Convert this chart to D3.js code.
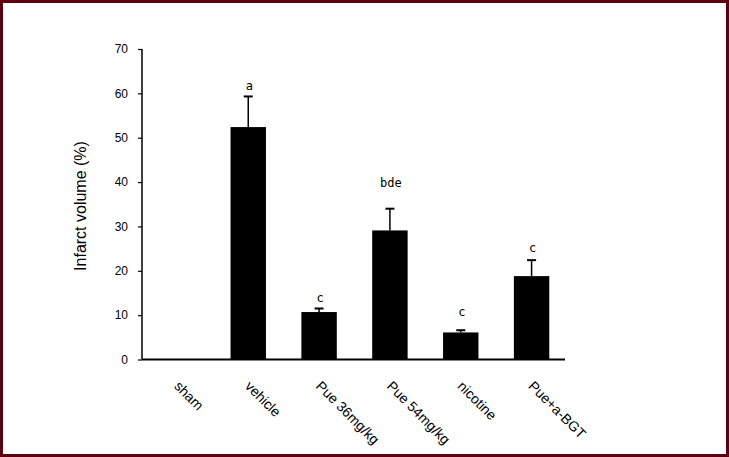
<!DOCTYPE html>
<html>
<head>
<meta charset="utf-8">
<script src="https://cdn.jsdelivr.net/npm/d3@7"></script>
<style>
  html, body { margin: 0; padding: 0; background: #fff; }
  svg { display: block; }
</style>
</head>
<body>
<div id="chart"></div>
<script>
const groups = ["sham", "vehicle", "Pue 36mg/kg", "Pue 54mg/kg", "nicotine", "Pue+a-BGT"];
const means = [0, 52.4, 10.7, 29.1, 6.1, 18.8];
const errors = [0, 6.9, 0.8, 4.9, 0.5, 3.6];
const letters = ["", "a", "c", "bde", "c", "c"];
const letterAt = [0, 60.8, 13.0, 38.9, 9.8, 24.2];
const yTicks = [0, 10, 20, 30, 40, 50, 60, 70];

function init() {
    const width = 729, height = 457;

    const svg = d3.select("#chart")
        .append("svg")
        .attr("width", width)
        .attr("height", height);

    // frame
    svg.append("rect")
        .attr("x", 1.5)
        .attr("y", 1.5)
        .attr("width", width - 3)
        .attr("height", height - 3)
        .attr("fill", "none")
        .attr("stroke", "#5c0012")
        .attr("stroke-width", 3);

    const x = d3.scaleBand()
        .domain(groups)
        .range([142, 567])
        .paddingInner(0.5)
        .paddingOuter(0.25);

    const y = d3.scaleLinear()
        .domain([0, 70])
        .range([359.5, 49]);

    // y axis
    const yAxis = svg.append("g")
        .attr("transform", "translate(142,0)")
        .call(d3.axisLeft(y).tickValues(yTicks).tickSize(4).tickPadding(10).tickFormat(d3.format("d")));
    yAxis.select(".domain")
        .attr("d", `M0,${y(70)}V${y(0)}`)
        .attr("stroke-width", 1.5);
    yAxis.selectAll(".tick line").attr("stroke-width", 1.2);
    yAxis.selectAll("text")
        .attr("font-family", "Liberation Sans, Arial, sans-serif")
        .attr("font-size", 12)
        .attr("fill", "#000");

    // bars
    svg.selectAll(".bar")
        .data(groups)
        .enter()
        .append("rect")
        .attr("class", "bar")
        .attr("x", d => x(d))
        .attr("y", (d, i) => y(means[i]))
        .attr("width", x.bandwidth())
        .attr("height", (d, i) => y(0) - y(means[i]))
        .attr("fill", "#000");

    // error bars (upper only)
    const err = svg.selectAll(".err")
        .data(groups.filter((d, i) => errors[i] > 0))
        .enter()
        .append("g")
        .attr("class", "err");
    err.append("line")
        .attr("x1", d => x(d) + x.bandwidth() / 2)
        .attr("x2", d => x(d) + x.bandwidth() / 2)
        .attr("y1", d => y(means[groups.indexOf(d)]))
        .attr("y2", d => y(means[groups.indexOf(d)] + errors[groups.indexOf(d)]))
        .attr("stroke", "#000")
        .attr("stroke-width", 1.5);
    err.append("line")
        .attr("x1", d => x(d) + x.bandwidth() / 2 - 4.5)
        .attr("x2", d => x(d) + x.bandwidth() / 2 + 4.5)
        .attr("y1", d => y(means[groups.indexOf(d)] + errors[groups.indexOf(d)]))
        .attr("y2", d => y(means[groups.indexOf(d)] + errors[groups.indexOf(d)]))
        .attr("stroke", "#000")
        .attr("stroke-width", 2);

    // significance letters
    svg.selectAll(".sig")
        .data(groups)
        .enter()
        .append("text")
        .attr("class", "sig")
        .attr("x", d => x(d) + x.bandwidth() / 2 + 1)
        .attr("y", (d, i) => y(letterAt[i]))
        .attr("text-anchor", "middle")
        .style("font-family", "'DejaVu Sans Mono', 'Liberation Mono', monospace")
        .attr("font-size", 12)
        .attr("fill", "#000")
        .text((d, i) => letters[i]);

    // x axis line
    svg.append("line")
        .attr("x1", 142)
        .attr("x2", 565)
        .attr("y1", y(0))
        .attr("y2", y(0))
        .attr("stroke", "#000")
        .attr("stroke-width", 2);

    // category labels, rotated
    svg.selectAll(".cat")
        .data(groups)
        .enter()
        .append("text")
        .attr("class", "cat")
        .attr("transform", d => `translate(${x(d) + x.bandwidth() / 2 - 4},${387}) rotate(45)`)
        .attr("font-family", "Liberation Sans, Arial, sans-serif")
        .attr("font-size", 14)
        .attr("fill", "#000")
        .text(d => d);

    // y title
    svg.append("text")
        .attr("transform", "translate(86,206) rotate(-90)")
        .attr("text-anchor", "middle")
        .attr("font-family", "Liberation Sans, Arial, sans-serif")
        .attr("font-size", 16)
        .attr("fill", "#000")
        .text("Infarct volume (%)");
}

window.onload = init;
</script>
</body>
</html>
